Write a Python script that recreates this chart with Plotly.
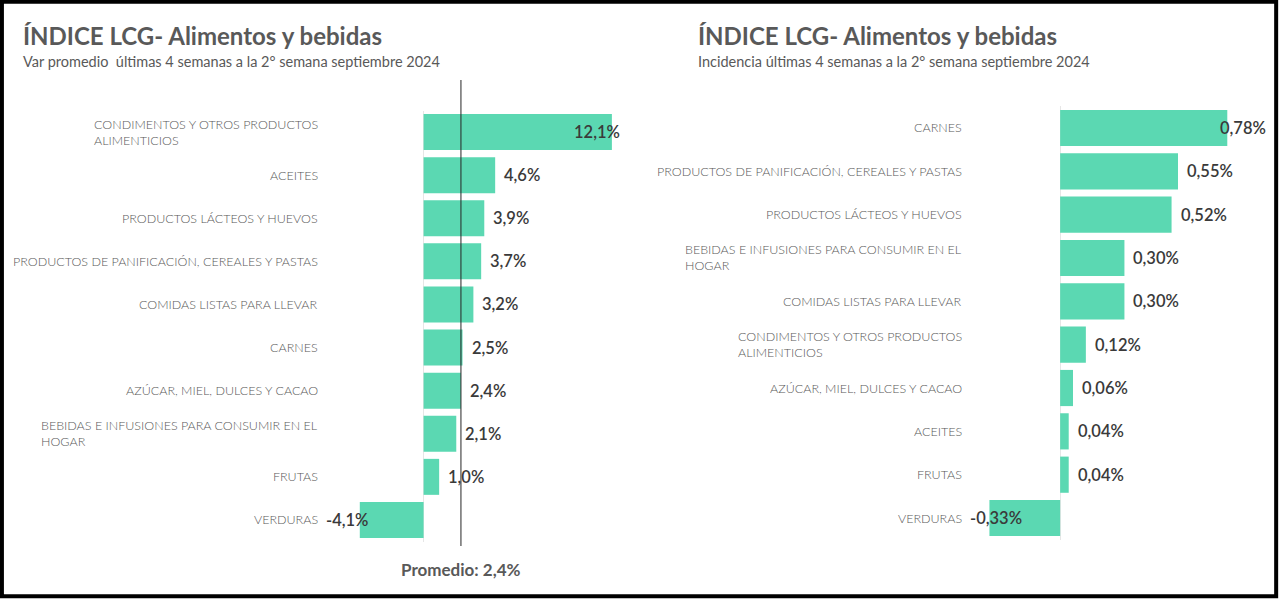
import plotly.graph_objects as go

# ---- data ----
left_categories = [
    "CONDIMENTOS Y OTROS PRODUCTOS<br>ALIMENTICIOS",
    "ACEITES",
    "PRODUCTOS LÁCTEOS Y HUEVOS",
    "PRODUCTOS DE PANIFICACIÓN, CEREALES Y PASTAS",
    "COMIDAS LISTAS PARA LLEVAR",
    "CARNES",
    "AZÚCAR, MIEL, DULCES Y CACAO",
    "BEBIDAS E INFUSIONES PARA CONSUMIR EN EL<br>HOGAR",
    "FRUTAS",
    "VERDURAS",
]
left_values = [12.1, 4.6, 3.9, 3.7, 3.2, 2.5, 2.4, 2.1, 1.0, -4.1]
left_average = 2.4

right_categories = [
    "CARNES",
    "PRODUCTOS DE PANIFICACIÓN, CEREALES Y PASTAS",
    "PRODUCTOS LÁCTEOS Y HUEVOS",
    "BEBIDAS E INFUSIONES PARA CONSUMIR EN EL<br>HOGAR",
    "COMIDAS LISTAS PARA LLEVAR",
    "CONDIMENTOS Y OTROS PRODUCTOS<br>ALIMENTICIOS",
    "AZÚCAR, MIEL, DULCES Y CACAO",
    "ACEITES",
    "FRUTAS",
    "VERDURAS",
]
right_values = [0.78, 0.55, 0.52, 0.30, 0.30, 0.12, 0.06, 0.04, 0.04, -0.33]

title_text = "ÍNDICE LCG- Alimentos y bebidas"
left_subtitle = "Var promedio\u00a0 últimas 4 semanas a la 2° semana septiembre 2024"
right_subtitle = "Incidencia últimas 4 semanas a la 2° semana septiembre 2024"

# ---- style ----
W, H = 1280, 601
BAR = "#5BD8B2"
GREY = "#595959"
DARK = "#3A3A3A"
FONT = "Lato"
left_range = [-6.4, 12.75]
right_range = [-0.43, 0.97]

fig = go.Figure()
fig.add_trace(go.Bar(
    y=left_categories, x=left_values, orientation="h",
    marker=dict(color=BAR, line=dict(width=0)),
    xaxis="x", yaxis="y", hoverinfo="skip", showlegend=False,
))
fig.add_trace(go.Bar(
    y=right_categories, x=right_values, orientation="h",
    marker=dict(color=BAR, line=dict(width=0)),
    xaxis="x2", yaxis="y2", hoverinfo="skip", showlegend=False,
))

def fmt(v, d):
    return (f"{v:.{d}f}".replace(".", ",")) + "%"

annotations = []
def add_labels(cats, vals, rng, xref, yref, d, label_right):
    vmax = max(vals)
    for c, v in zip(cats, vals):
        if v < 0:
            ax, anchor, shift = rng[0], "left", 0
        elif v == vmax:
            ax, anchor, shift = rng[1], "right", 0
        else:
            ax, anchor, shift = v, "left", 7
        annotations.append(dict(
            x=ax, y=c, xref=xref, yref=yref, text=fmt(v, d),
            xanchor=anchor, yanchor="middle", xshift=shift, showarrow=False,
            font=dict(family=FONT, size=16.5, color=DARK, weight=600),
        ))
        # category label (left-aligned lines, right-anchored box)
        annotations.append(dict(
            x=label_right / W, y=c, xref="paper", yref=yref, text=c,
            xanchor="right", yanchor="middle", align="left", showarrow=False,
            font=dict(family=FONT, size=12.5, color=GREY, weight=300),
        ))

add_labels(left_categories, left_values, left_range, "x", "y", 1, 320)
add_labels(right_categories, right_values, right_range, "x2", "y2", 2, 964)

# titles
for xpos, sub in [(23, left_subtitle), (698, right_subtitle)]:
    annotations.append(dict(x=xpos / W, y=1 - 36 / H, xref="paper", yref="paper",
                            text="<b>" + title_text + "</b>", showarrow=False,
                            xanchor="left", yanchor="middle", xshift=-2,
                            font=dict(family=FONT, size=24, color=GREY)))
    annotations.append(dict(x=xpos / W, y=1 - 61 / H, xref="paper", yref="paper",
                            text=sub, showarrow=False,
                            xanchor="left", yanchor="middle", xshift=-2,
                            font=dict(family=FONT, size=14.5, color=GREY)))

annotations.append(dict(x=left_average, y=1 - 569 / H, xref="x", yref="paper",
                        text="<b>Promedio: " + fmt(left_average, 1) + "</b>",
                        showarrow=False, xanchor="center", yanchor="middle",
                        font=dict(family=FONT, size=17, color=GREY)))

shapes = [
    dict(type="line", xref="x", yref="paper", x0=left_average, x1=left_average,
         y0=1 - 546 / H, y1=1 - 80 / H, line=dict(color="#262626", width=1)),
    dict(type="rect", xref="paper", yref="paper", x0=0.0015, x1=0.997, y0=0.008, y1=0.997,
         line=dict(color="black", width=4)),
]

axis_common = dict(showgrid=False, showticklabels=False, zeroline=True,
                   zerolinecolor="#E6E6E6", zerolinewidth=1, showline=False,
                   fixedrange=True)
ycommon = dict(showgrid=False, autorange="reversed", ticks="", showline=False,
               showticklabels=False, fixedrange=True)

fig.update_layout(
    width=W, height=H,
    margin=dict(l=0, r=0, t=0, b=0),
    paper_bgcolor="white", plot_bgcolor="white",
    bargap=0.165,
    separators=",.",
    xaxis=dict(domain=[324 / W, 622 / W], range=left_range, anchor="y", **axis_common),
    yaxis=dict(domain=[1 - 541.5 / H, 1 - 110.5 / H], anchor="x", **ycommon),
    xaxis2=dict(domain=[968 / W, 1268 / W], range=right_range, anchor="y2", **axis_common),
    yaxis2=dict(domain=[1 - 539.7 / H, 1 - 106.3 / H], anchor="x2", **ycommon),
    annotations=annotations,
    shapes=shapes,
)

fig.write_html("out.html", config={"displayModeBar": False},
               post_script="document.body.style.margin='0';")
